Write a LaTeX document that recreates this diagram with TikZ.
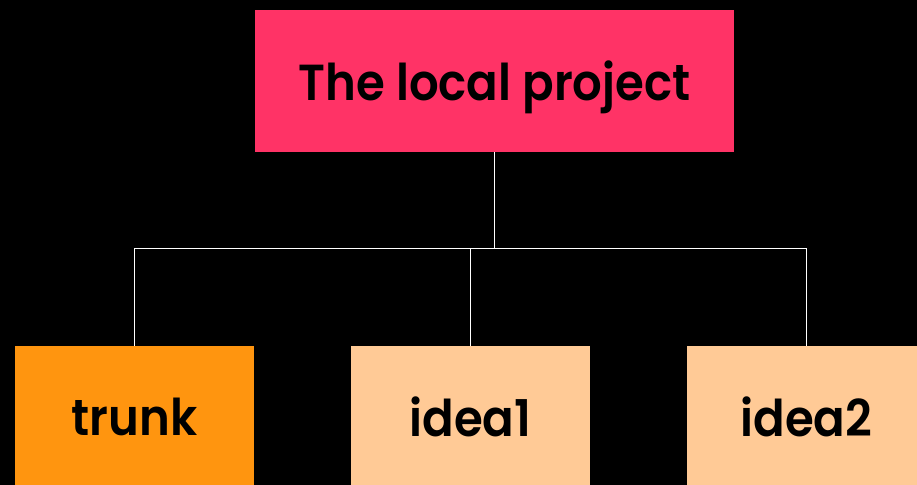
\documentclass[tikz,border=0pt]{standalone}
\usepackage{fontspec}
\setmainfont{Poppins SemiBold}[FakeStretch=0.92]
\usepackage{tikz}
\usetikzlibrary{positioning}
\definecolor{localpink}{HTML}{FF3366}
\definecolor{trunkorange}{HTML}{FF950F}
\definecolor{ideapeach}{HTML}{FFCA96}
\tikzset{
  branchbox/.style={rectangle,inner sep=0pt,minimum width=179.25pt,minimum height=106.5pt,
    text depth=0pt,text=black,font=\fontsize{38}{44}\selectfont},
  treeline/.style={draw=white,line width=0.6pt}
}

\begin{document}
\begin{tikzpicture}[x=0.75pt,y=-0.75pt]
\fill[black] (0,0) rectangle (917,485);
\useasboundingbox (0,0) rectangle (917,485);
\clip (0,0) rectangle (917,485);

\node[branchbox,fill=localpink,minimum width=359.25pt] (local) at (494.5,81) {The local project};
\node[branchbox,fill=trunkorange] (trunk) at (134.5,417) {trunk};
\node[branchbox,fill=ideapeach] (idea1) at (470.5,417) {idea1};
\node[branchbox,fill=ideapeach] (idea2) at (806.5,417) {idea2};

\coordinate (fork) at (494.5,248);
\draw[treeline] (local.south) -- (fork);
\draw[treeline] (fork) -| (trunk.north);
\draw[treeline] (fork) -| (idea1.north);
\draw[treeline] (fork) -| (idea2.north);
\end{tikzpicture}
\end{document}
